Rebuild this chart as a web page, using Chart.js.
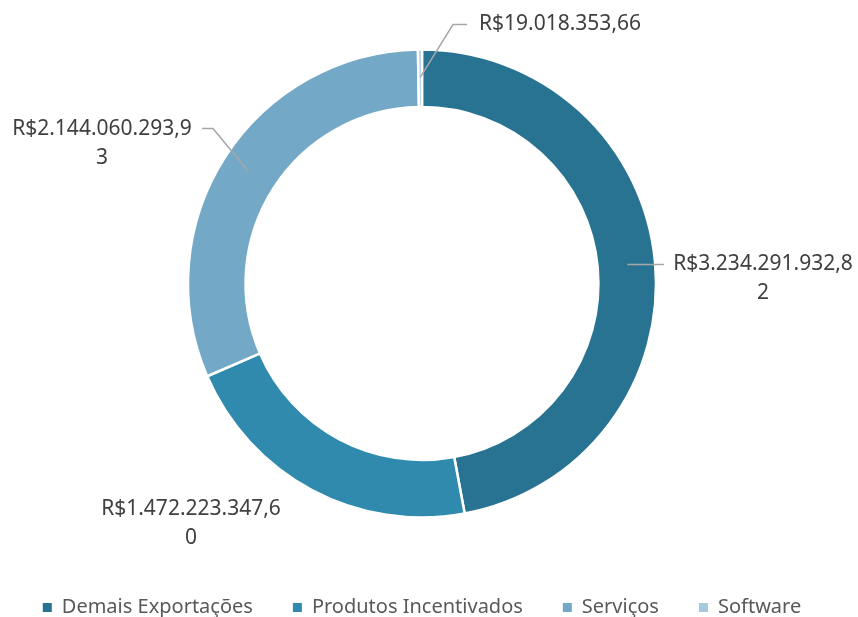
<!DOCTYPE html>
<html>
<head>
<meta charset="utf-8">
<script src="https://cdn.jsdelivr.net/npm/chart.js@4.4.1/dist/chart.umd.min.js"></script>
<style>
  html, body { margin: 0; padding: 0; background: #fff; }
  #wrap { width: 858px; height: 617px; position: relative; }
</style>
</head>
<body>
<div id="wrap"><canvas id="chartdiv"></canvas></div>
<script>
const categories = ['Demais Exportações', 'Produtos Incentivados', 'Serviços', 'Software'];
const values = [3234291932.82, 1472223347.60, 2144060293.93, 19018353.66];
const colors = ['#287391', '#2f8aae', '#73a9c7', '#a8c8dd'];

// where each value label sits, relative to the doughnut centre
// leader: bend points after the start point on the ring; text: centre of first line
const labelSpots = [
    { leader: [[242, -19]], text: [341, -19] },
    { leader: [], text: [-231, 226] },
    { leader: [[-209, -155], [-220, -155]], text: [-320, -154] },
    { leader: [[31, -259], [45, -259]], text: [138, -259] }
];

const FONT = "'Noto Sans', 'Open Sans', sans-serif";

function formatBRL(v) {
    let parts = v.toFixed(2).split('.');
    let int = parts[0].replace(/\B(?=(\d{3})+(?!\d))/g, '.');
    return 'R$' + int + ',' + parts[1];
}

function wrapChars(ctx, text, maxWidth) {
    let lines = [];
    let cur = '';
    for (const ch of text) {
        if (cur && ctx.measureText(cur + ch).width > maxWidth) {
            lines.push(cur);
            cur = ch;
        } else {
            cur += ch;
        }
    }
    if (cur) lines.push(cur);
    return lines;
}

const valueLabels = {
    id: 'valueLabels',
    afterDatasetsDraw(chart) {
        const ctx = chart.ctx;
        const meta = chart.getDatasetMeta(0);
        ctx.save();
        meta.data.forEach((arc, i) => {
            const spot = labelSpots[i];
            const p = arc.getProps(['x', 'y', 'startAngle', 'endAngle', 'innerRadius', 'outerRadius'], true);
            const mid = (p.startAngle + p.endAngle) / 2;
            const r = (p.innerRadius + p.outerRadius) / 2 + 1;
            const sx = p.x + Math.cos(mid) * r;
            const sy = p.y + Math.sin(mid) * r;

            if (spot.leader.length) {
                ctx.beginPath();
                ctx.strokeStyle = '#a6a6a6';
                ctx.lineWidth = 1.5;
                ctx.moveTo(sx, sy);
                spot.leader.forEach(pt => ctx.lineTo(p.x + pt[0], p.y + pt[1]));
                ctx.stroke();
            }

            ctx.font = '21px ' + FONT;
            ctx.fillStyle = '#404040';
            ctx.textAlign = 'center';
            ctx.textBaseline = 'middle';
            const lines = wrapChars(ctx, formatBRL(values[i]), 185);
            lines.forEach((ln, k) => {
                ctx.fillText(ln, p.x + spot.text[0], p.y + spot.text[1] + k * 29);
            });
        });
        ctx.restore();
    }
};

const data = {
    labels: categories,
    datasets: [{
        data: values,
        backgroundColor: colors,
        borderColor: '#ffffff',
        borderWidth: 2.5,
        hoverOffset: 0
    }]
};

const config = {
    type: 'doughnut',
    data: data,
    options: {
        responsive: true,
        maintainAspectRatio: false,
        devicePixelRatio: 1,
        animation: false,
        radius: 234,
        cutout: '75.4%',
        layout: { padding: { top: 9.5, bottom: -10.5, left: 0, right: 14 } },
        plugins: {
            tooltip: { enabled: false },
            legend: {
                position: 'bottom',
                labels: {
                    font: { family: FONT, size: 20 },
                    color: '#595959',
                    boxWidth: 9,
                    boxHeight: 9,
                    padding: 40,
                    generateLabels(chart) {
                        const items = Chart.overrides.doughnut.plugins.legend.labels.generateLabels(chart);
                        items.forEach(it => { it.lineWidth = 0; });
                        return items;
                    }
                }
            }
        }
    },
    plugins: [valueLabels]
};

const myChart = new Chart(document.getElementById('chartdiv'), config);
</script>
</body>
</html>
